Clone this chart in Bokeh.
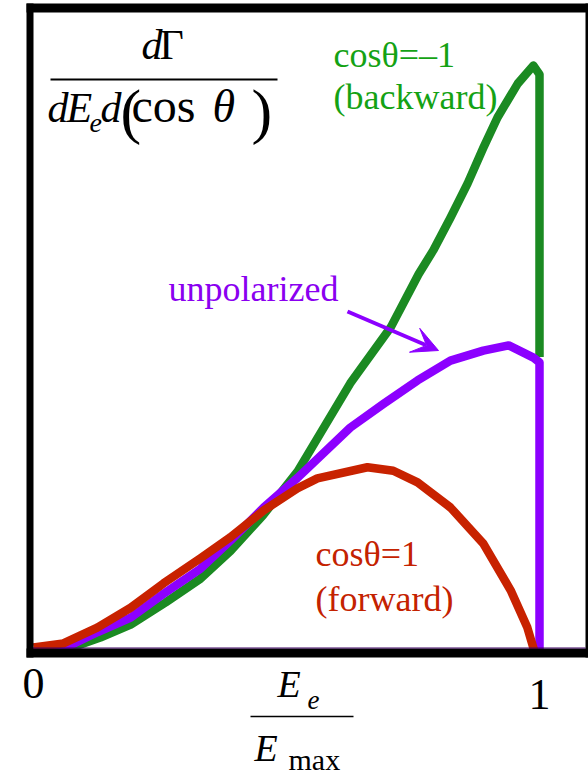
from bokeh.plotting import figure
from bokeh.models import Range1d, Arrow, VeeHead
from bokeh.core.properties import value
from bokeh.embed import file_html
from bokeh.resources import INLINE

# ---------------- data ----------------
# x: E_e / E_max ; y: dGamma / dE_e d(cos theta), arbitrary units
energy_backward = [0.0, 0.06, 0.083, 0.132, 0.192, 0.261, 0.330, 0.389, 0.453, 0.522,
                   0.626, 0.706, 0.761, 0.790, 0.824, 0.858, 0.889, 0.917, 0.957, 0.988,
                   1.0, 1.0]
rate_backward = [0.0, 0.003, 0.009, 0.024, 0.046, 0.084, 0.125, 0.172, 0.233, 0.309,
                 0.460, 0.556, 0.647, 0.688, 0.744, 0.803, 0.864, 0.916, 0.974, 1.005,
                 0.99, 0.505]

energy_unpol = [0.0, 0.059, 0.126, 0.192, 0.257, 0.330, 0.389, 0.455, 0.522, 0.626,
                0.692, 0.759, 0.824, 0.889, 0.939, 0.988, 1.0, 1.0]
rate_unpol = [0.0, 0.005, 0.033, 0.058, 0.099, 0.142, 0.190, 0.247, 0.298, 0.384,
              0.425, 0.465, 0.499, 0.516, 0.525, 0.504, 0.496, 0.0]

energy_forward = [0.0, 0.059, 0.126, 0.192, 0.257, 0.330, 0.389, 0.455, 0.522, 0.561,
                  0.660, 0.711, 0.759, 0.824, 0.889, 0.943, 0.976, 0.99]
rate_forward = [0.007, 0.014, 0.041, 0.075, 0.117, 0.160, 0.196, 0.242, 0.280, 0.297,
                0.316, 0.310, 0.290, 0.247, 0.185, 0.105, 0.041, 0.0]

tick_values = [0, 1]
tick_labels = ["0", "1"]

# ---------------- figure ----------------
W, H = 588, 778
PX0, PXS = 33.0, 506.0      # x=0 at px 33, 506 px per unit
PY0, PYS = 651.0, 583.0     # y=0 at py 651, 583 px per unit
BASE_FIX = 0.38             # baseline correction (fraction of font size)


def dx(px):
    return (px - PX0) / PXS


def dy(py):
    return (PY0 - py) / PYS


p = figure(width=W, height=H, output_backend="svg", toolbar_location=None,
           x_axis_type=None, y_axis_type=None, min_border=0,
           x_range=Range1d(dx(0), dx(W)), y_range=Range1d(dy(H), dy(0)))
p.outline_line_color = None
p.background_fill_color = "white"
p.border_fill_color = "white"

GREEN = "#1b8a22"
PURPLE = "#8c00ff"
RED = "#c82200"
GREEN_T = "#14a214"
PURPLE_T = "#8a00f0"
RED_T = "#c42200"
SERIF = "Liberation Serif"

# curves
p.line(energy_backward, rate_backward, line_color=GREEN, line_width=8.5, line_join="round")
p.line(energy_unpol, rate_unpol, line_color=PURPLE, line_width=8.5, line_join="round")
p.line(energy_forward, rate_forward, line_color=RED, line_width=8.5, line_join="round")

# frame (decorative box)
p.quad(left=[dx(26)], right=[dx(33)], top=[dy(3)], bottom=[dy(657)], fill_color="black", line_color=None)
p.quad(left=[dx(26)], right=[dx(588)], top=[dy(3)], bottom=[dy(12)], fill_color="black", line_color=None)
p.quad(left=[dx(585)], right=[dx(588)], top=[dy(3)], bottom=[dy(657)], fill_color="black", line_color=None)
p.quad(left=[dx(26)], right=[dx(588)], top=[dy(648)], bottom=[dy(657)], fill_color="black", line_color=None)
p.segment(x0=[dx(33)], y0=[dy(647.5)], x1=[dx(585)], y1=[dy(647.5)], line_color="#3a0060", line_width=1)


def txt(px, py, s, size, color="black", style="normal", align="left"):
    p.text(x=[dx(px)], y=[dy(py - BASE_FIX * size)], text=[s], text_font=value(SERIF),
           text_font_size=value(f"{size}px"), text_font_style=value(style),
           text_color=color, text_align=align, text_baseline="alphabetic")


# curve labels
txt(333, 68, "cos\u03b8=\u20131", 36, GREEN_T)
txt(333, 110, "(backward)", 36, GREEN_T)
txt(168, 302, "unpolarized", 36, PURPLE_T)
txt(315, 567, "cos\u03b8=1", 36, RED_T)
txt(315, 612, "(forward)", 36, RED_T)

# arrow pointing to the unpolarized curve
p.add_layout(Arrow(x_start=dx(347), y_start=dy(311), x_end=dx(438), y_end=dy(350),
                   line_color=PURPLE, line_width=4,
                   end=VeeHead(size=26, fill_color=PURPLE, line_color=PURPLE, line_width=1)))

# y label: dGamma / (dE_e d(cos theta))
txt(141, 60, "d", 42, style="italic")
txt(159, 60, "\u0393", 42)
p.segment(x0=[dx(50)], y0=[dy(79)], x1=[dx(277)], y1=[dy(79)], line_color="black", line_width=2)
txt(47, 123, "d", 42, style="italic")
txt(66, 123, "E", 42, style="italic")
txt(89, 133, "e", 28, style="italic")
txt(100, 123, "d", 42, style="italic")
txt(120, 134, "(", 62)
txt(131, 123, "cos", 48)
txt(212, 123, "\u03b8", 46, style="italic")
txt(251, 134, ")", 62)

# x tick labels
for v, lab, base in zip(tick_values, tick_labels, [700, 711]):
    p.text(x=[v], y=[dy(base - BASE_FIX * 44)], text=[lab], text_font=value(SERIF),
           text_font_size=value("44px"), text_color="black",
           text_align="center", text_baseline="alphabetic")

# x label: E_e / E_max
txt(277, 698, "E", 38, style="italic")
txt(307, 710, "e", 27, style="italic")
p.segment(x0=[dx(250)], y0=[dy(716)], x1=[dx(353)], y1=[dy(716)], line_color="black", line_width=1.5)
txt(254, 762, "E", 38, style="italic")
txt(288, 770, "max", 30)

open("out.html", "w").write(file_html(p, INLINE))
